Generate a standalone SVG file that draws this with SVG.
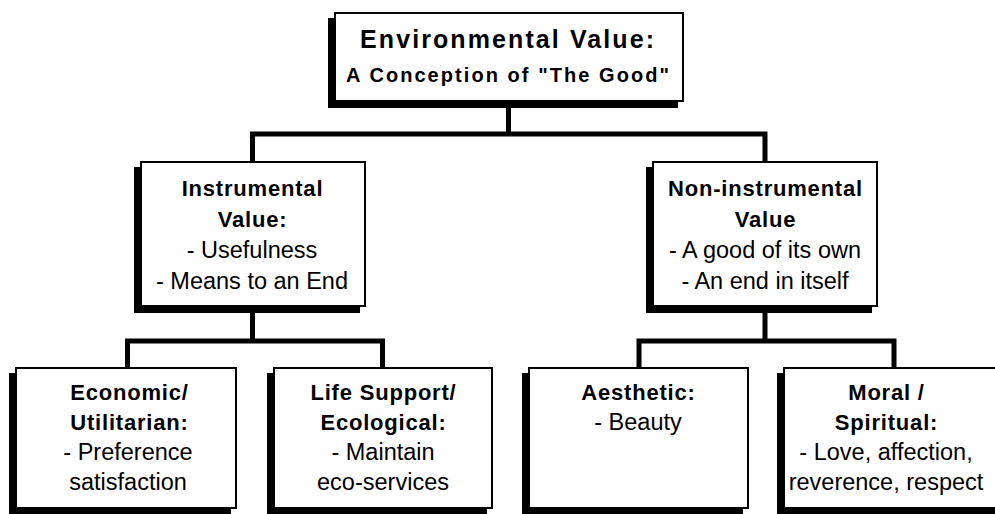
<svg xmlns="http://www.w3.org/2000/svg" width="995" height="514" viewBox="0 0 995 514">
  <style>
    .shadow { fill: #000; }
    .box { fill: #fff; stroke: #000; stroke-width: 2; }
    .link { fill: none; stroke: #000; stroke-width: 5; stroke-linejoin: miter; stroke-linecap: butt; }
    text { font-family: "Liberation Sans", Arial, sans-serif; fill: #000; text-anchor: middle; }
    .h { font-weight: bold; font-size: 22px; letter-spacing: 0.8px; }
    .b { font-size: 23.5px; }
    .t1 { font-weight: bold; font-size: 25px; }
    .t2 { font-weight: bold; font-size: 20px; }
  </style>
  <rect width="995" height="514" fill="#fff"/>

  <!-- tree connectors -->
  <g id="connectors">
    <path class="link" d="M508.5,102 V134"/>
    <path class="link" d="M252.5,161 V134 H765 V161"/>
    <path class="link" d="M252.5,307 V341"/>
    <path class="link" d="M127.5,367 V341 H382.5 V367"/>
    <path class="link" d="M765,307 V341"/>
    <path class="link" d="M639,367 V341 H894 V367"/>
  </g>

  <!-- root -->
  <g id="environmental-value">
    <rect class="shadow" x="328" y="18" width="350" height="90"/>
    <rect class="box" x="335" y="13" width="348" height="88"/>
    <text class="t1" x="507" y="48" textLength="294" lengthAdjust="spacing">Environmental Value:</text>
    <text class="t2" x="507.5" y="82" textLength="323" lengthAdjust="spacing">A Conception of "The Good"</text>
  </g>

  <!-- second level -->
  <g id="instrumental">
    <rect class="shadow" x="134" y="167" width="226" height="146"/>
    <rect class="box" x="141" y="162" width="224" height="144"/>
    <text class="h" x="252.5" y="196">Instrumental</text>
    <text class="h" x="252.5" y="227">Value:</text>
    <text class="b" x="252" y="258">- Usefulness</text>
    <text class="b" x="252" y="289">- Means to an End</text>
  </g>

  <g id="non-instrumental">
    <rect class="shadow" x="646" y="167" width="226" height="146"/>
    <rect class="box" x="653" y="162" width="224" height="144"/>
    <text class="h" x="765.5" y="196">Non-instrumental</text>
    <text class="h" x="765.5" y="227">Value</text>
    <text class="b" x="765" y="258">- A good of its own</text>
    <text class="b" x="765" y="289">- An end in itself</text>
  </g>

  <!-- third level -->
  <g id="economic">
    <rect class="shadow" x="9" y="373" width="222" height="142"/>
    <rect class="box" x="16" y="368" width="220" height="140"/>
    <text class="h" x="129.5" y="400">Economic/</text>
    <text class="h" x="129.5" y="430">Utilitarian:</text>
    <text class="b" x="128" y="460">- Preference</text>
    <text class="b" x="128" y="490">satisfaction</text>
  </g>

  <g id="life-support">
    <rect class="shadow" x="267" y="373" width="220" height="142"/>
    <rect class="box" x="274" y="368" width="218" height="140"/>
    <text class="h" x="383.5" y="400">Life Support/</text>
    <text class="h" x="383.5" y="430">Ecological:</text>
    <text class="b" x="383" y="460">- Maintain</text>
    <text class="b" x="383" y="490">eco-services</text>
  </g>

  <g id="aesthetic">
    <rect class="shadow" x="522" y="373" width="221" height="142"/>
    <rect class="box" x="529" y="368" width="219" height="140"/>
    <text class="h" x="638.5" y="400">Aesthetic:</text>
    <text class="b" x="638" y="430">- Beauty</text>
  </g>

  <g id="moral-spiritual">
    <rect class="shadow" x="777" y="373" width="222" height="142"/>
    <rect class="box" x="784" y="368" width="220" height="140"/>
    <text class="h" x="886.5" y="400">Moral /</text>
    <text class="h" x="886.5" y="430">Spiritual:</text>
    <text class="b" x="886" y="460">- Love, affection,</text>
    <text class="b" x="886" y="490">reverence, respect</text>
  </g>
</svg>
